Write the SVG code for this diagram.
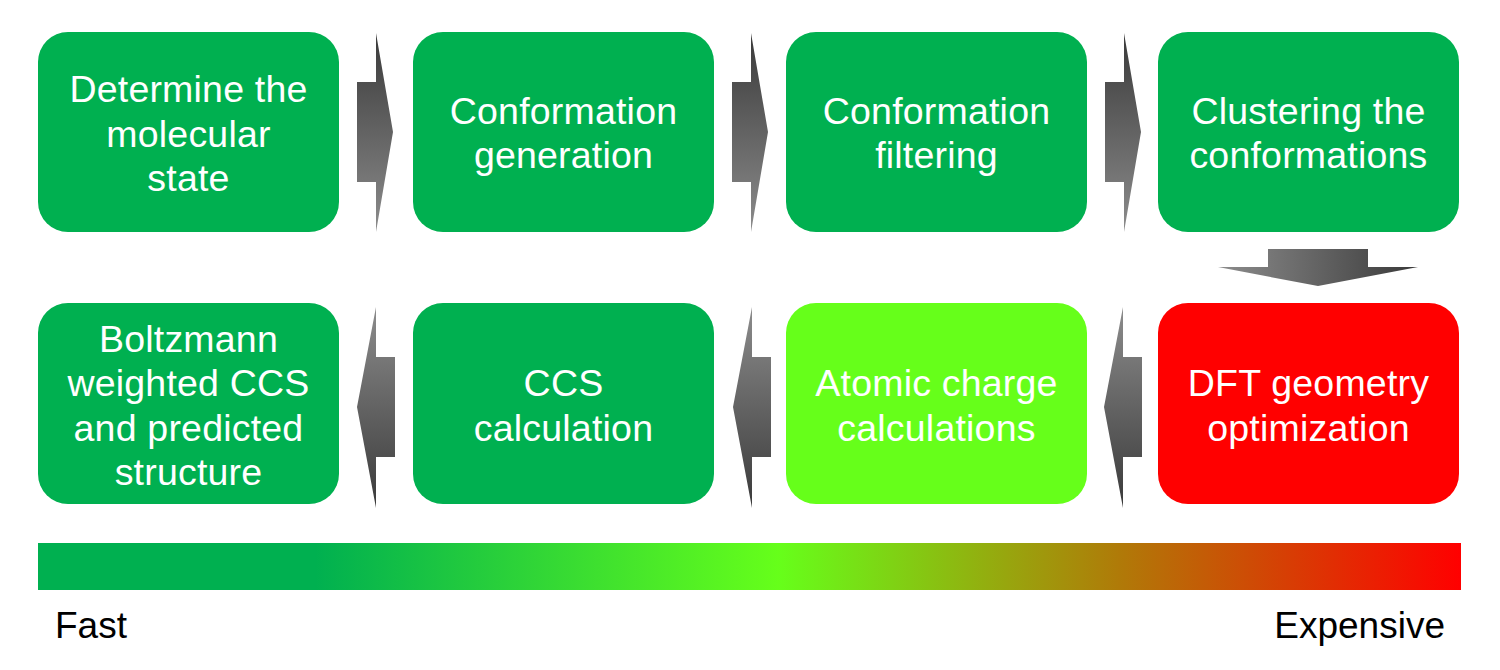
<svg xmlns="http://www.w3.org/2000/svg" width="1500" height="670" viewBox="0 0 1500 670">
<defs>
<linearGradient id="gDownDark" x1="0" y1="0" x2="0" y2="1"><stop offset="0" stop-color="#3a3a3a"/><stop offset="1" stop-color="#8c8c8c"/></linearGradient>
<linearGradient id="gUpDark" x1="0" y1="0" x2="0" y2="1"><stop offset="0" stop-color="#8c8c8c"/><stop offset="1" stop-color="#3a3a3a"/></linearGradient>
<linearGradient id="gRightDark" x1="0" y1="0" x2="1" y2="0"><stop offset="0" stop-color="#8c8c8c"/><stop offset="1" stop-color="#3a3a3a"/></linearGradient>
<linearGradient id="gBar" x1="0" y1="0" x2="1" y2="0">
<stop offset="0" stop-color="#00b050"/>
<stop offset="0.195" stop-color="#00b050"/>
<stop offset="0.52" stop-color="#66ff1a"/>
<stop offset="0.76" stop-color="#b07a08"/>
<stop offset="1" stop-color="#ff0000"/>
</linearGradient>
<style>
.box{stroke:none}
.g{fill:#00b050}
.lg{fill:#66ff1a}
.r{fill:#ff0000}
.t{font-family:"Liberation Sans",Arial,sans-serif;font-size:37.5px;fill:#ffffff;text-anchor:middle;letter-spacing:0.2px}
.lbl{font-family:"Liberation Sans",Arial,sans-serif;font-size:37px;fill:#000000}
</style>
</defs>

<g id="connectors">
<polygon fill="url(#gDownDark)" points="357,82 376,82 376,33 393,132 376,232 376,182 357,182"/>
<polygon fill="url(#gDownDark)" points="732,82 751,82 751,33 768,132 751,232 751,182 732,182"/>
<polygon fill="url(#gDownDark)" points="1105,82 1124,82 1124,33 1141,132 1124,232 1124,182 1105,182"/>
<polygon fill="url(#gRightDark)" points="1268,249 1368,249 1368,267 1418,267 1318,286 1218,267 1268,267"/>
<polygon fill="url(#gUpDark)" points="1104,407 1123,307 1123,357 1142,357 1142,457 1123,457 1123,508"/>
<polygon fill="url(#gUpDark)" points="733,407 752,307 752,357 771,357 771,457 752,457 752,508"/>
<polygon fill="url(#gUpDark)" points="357,407 376,307 376,357 395,357 395,457 376,457 376,508"/>
</g>

<g id="n1"><rect class="box g" x="38" y="32" width="301" height="200" rx="30"/>
<text class="t"><tspan x="188.5" y="102">Determine the</tspan><tspan x="188.5" y="147">molecular</tspan><tspan x="188.5" y="191">state</tspan></text></g>

<g id="n2"><rect class="box g" x="413" y="32" width="301" height="200" rx="30"/>
<text class="t"><tspan x="563.5" y="124">Conformation</tspan><tspan x="563.5" y="168">generation</tspan></text></g>

<g id="n3"><rect class="box g" x="786" y="32" width="301" height="200" rx="30"/>
<text class="t"><tspan x="936.5" y="124">Conformation</tspan><tspan x="936.5" y="168">filtering</tspan></text></g>

<g id="n4"><rect class="box g" x="1158" y="32" width="301" height="200" rx="30"/>
<text class="t"><tspan x="1308.5" y="124">Clustering the</tspan><tspan x="1308.5" y="168">conformations</tspan></text></g>

<g id="n5"><rect class="box r" x="1158" y="303" width="301" height="201" rx="30"/>
<text class="t"><tspan x="1308.5" y="396">DFT geometry</tspan><tspan x="1308.5" y="441">optimization</tspan></text></g>

<g id="n6"><rect class="box lg" x="786" y="303" width="301" height="201" rx="30"/>
<text class="t"><tspan x="936.5" y="396">Atomic charge</tspan><tspan x="936.5" y="441">calculations</tspan></text></g>

<g id="n7"><rect class="box g" x="413" y="303" width="301" height="201" rx="30"/>
<text class="t"><tspan x="563.5" y="396">CCS</tspan><tspan x="563.5" y="441">calculation</tspan></text></g>

<g id="n8"><rect class="box g" x="38" y="303" width="301" height="201" rx="30"/>
<text class="t"><tspan x="188.5" y="352">Boltzmann</tspan><tspan x="188.5" y="396">weighted CCS</tspan><tspan x="188.5" y="441">and predicted</tspan><tspan x="188.5" y="485">structure</tspan></text></g>

<g id="scale">
<rect x="38" y="543" width="1423" height="47" fill="url(#gBar)"/>
<text class="lbl" x="55" y="638">Fast</text>
<text class="lbl" x="1445" y="638" text-anchor="end">Expensive</text>
</g>
</svg>
